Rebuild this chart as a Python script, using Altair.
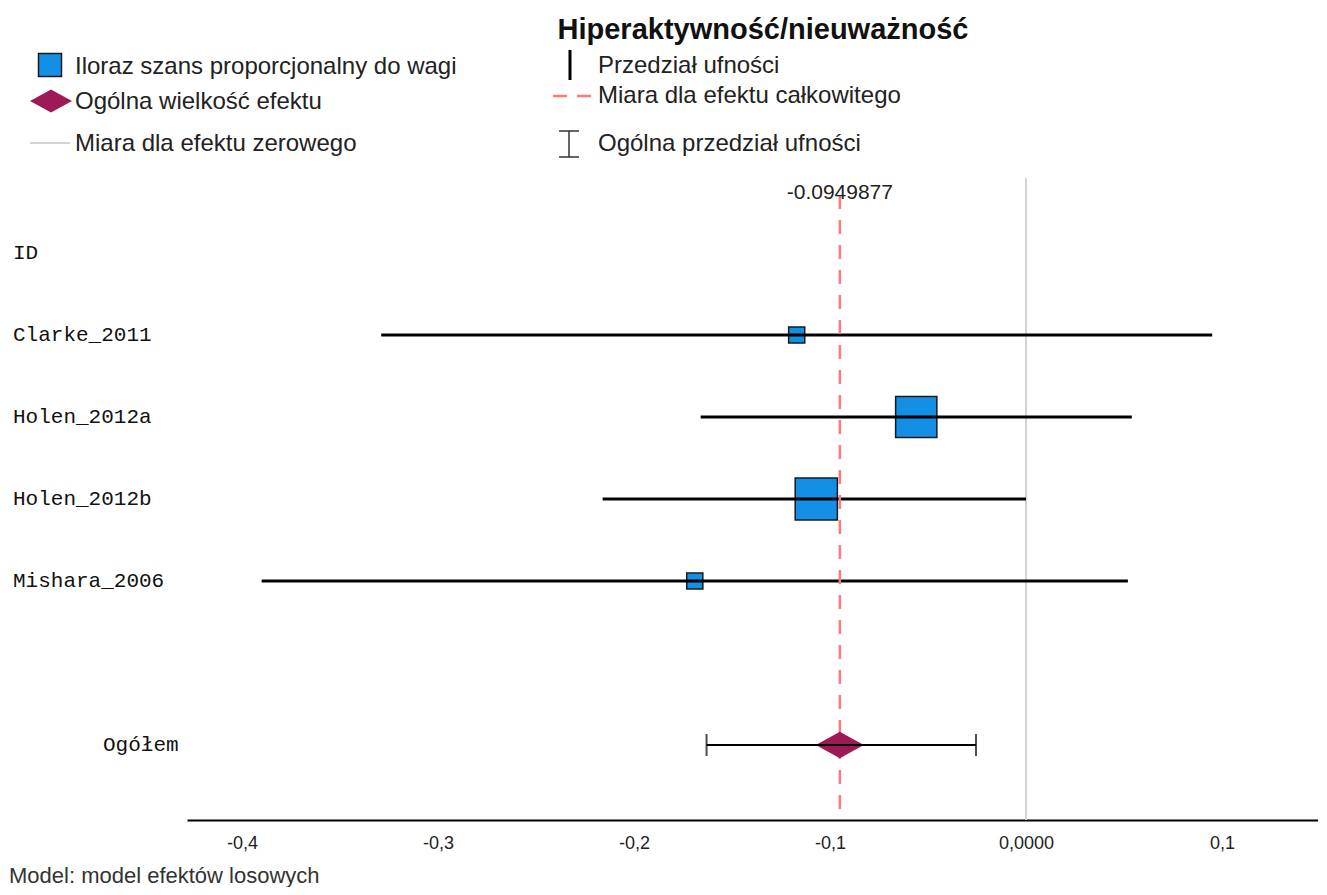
import altair as alt
import pandas as pd

# ---- data ----
studies = ["Clarke_2011", "Holen_2012a", "Holen_2012b", "Mishara_2006"]
effect = [-0.117, -0.056, -0.107, -0.169]
lower = [-0.329, -0.166, -0.216, -0.390]
upper = [0.095, 0.054, 0.000, 0.052]
weight = [6.5, 42.5, 44.5, 6.5]

overall_label = "Ogółem"
overall_est = -0.0949877
overall_lower = -0.163
overall_upper = -0.0255

tick_values = [-0.4, -0.3, -0.2, -0.1, 0.0, 0.1]

W, H = 1131, 642
x_scale = alt.Scale(domain=[-0.4281, 0.1490], nice=False, zero=False)
y_scale = alt.Scale(domain=[-0.9146, 6.9146], reverse=True, nice=False, zero=False)

df = pd.DataFrame({
    "study": studies,
    "row": list(range(1, len(studies) + 1)),
    "effect": effect,
    "lower": lower,
    "upper": upper,
    "weight": weight,
})
ov = pd.DataFrame({"label": [overall_label], "row": [6], "est": [overall_est],
                   "lower": [overall_lower], "upper": [overall_upper],
                   "est_txt": [f"{overall_est:.7f}"]})
hdr = pd.DataFrame({"label": ["ID"], "row": [0]})
one = pd.DataFrame({"k": [0]})

SANS = "Liberation Sans"
MONO = "Liberation Mono"
BLUE = "#1390E5"
MAROON = "#9E1A57"
RED = "#FF7B7B"
GRAY = "#D3D3D3"
DIAMOND = "M-1,0L0,-0.55L1,0L0,0.55Z"

axis = alt.Axis(values=tick_values, title=None, grid=False, ticks=False,
                domain=True, domainColor="black", domainWidth=2,
                labelFont=SANS, labelFontSize=18, labelColor="#222",
                labelPadding=14,
                labelExpr="datum.value == 0 ? '0,0000' : (datum.value < 0 ? '-' : '') + replace(format(abs(datum.value), '.1f'), '.', ',')")

X = lambda f: alt.X(f, scale=x_scale, axis=axis, title=None)
Y = lambda f: alt.Y(f, scale=y_scale, axis=None)

zero_line = alt.Chart(one).mark_rule(color=GRAY, strokeWidth=2).encode(
    x=X("z:Q")).transform_calculate(z="0")

squares = alt.Chart(df).mark_square(fill=BLUE, stroke="#1a1a1a", strokeWidth=1.5, opacity=1).encode(
    x=X("effect:Q"), y=Y("row:Q"),
    size=alt.Size("weight:Q", scale=alt.Scale(domain=[0, 100], range=[0, 4000]), legend=None))

ci = alt.Chart(df).mark_rule(color="black", strokeWidth=3).encode(
    x=X("lower:Q"), x2="upper:Q", y=Y("row:Q"))

red_line = alt.Chart(ov).mark_rule(color=RED, strokeWidth=2.5, strokeDash=[14, 11]).encode(
    x=X("est:Q"), y=alt.value(17), y2=alt.value(H))

red_label = alt.Chart(ov).mark_text(font=SANS, fontSize=21, color="#222", baseline="middle").encode(
    x=X("est:Q"), y=alt.value(15), text="est_txt:N")

diamond = alt.Chart(ov).mark_point(shape=DIAMOND, size=2304, filled=True, fill=MAROON, opacity=1, strokeWidth=0).encode(
    x=X("est:Q"), y=Y("row:Q"))

ov_ci = alt.Chart(ov).mark_rule(color="black", strokeWidth=2).encode(
    x=X("lower:Q"), x2="upper:Q", y=Y("row:Q"))
cap_lo = alt.Chart(ov).mark_tick(orient="vertical", size=22, thickness=2, color="black").encode(
    x=X("lower:Q"), y=Y("row:Q"))
cap_hi = alt.Chart(ov).mark_tick(orient="vertical", size=22, thickness=2, color="black").encode(
    x=X("upper:Q"), y=Y("row:Q"))

row_labels = alt.Chart(df).mark_text(align="left", baseline="middle", font=MONO, fontSize=21, color="#111").encode(
    x=alt.value(-174), y=Y("row:Q"), text="study:N")
hdr_label = alt.Chart(hdr).mark_text(align="left", baseline="middle", font=MONO, fontSize=21, color="#111").encode(
    x=alt.value(-174), y=Y("row:Q"), text="label:N")
ov_label = alt.Chart(ov).mark_text(align="left", baseline="middle", font=MONO, fontSize=21, color="#111").encode(
    x=alt.value(-84), y=Y("row:Q"), text="label:N")

# ---- legend / title / footnote (pixel-placed decorations) ----
def txt(s, x, y, size=24, weight="normal", align="left", color="#222"):
    return alt.Chart(one).mark_text(text=s, font=SANS, fontSize=size, fontWeight=weight,
                                    align=align, baseline="middle", color=color).encode(
        x=alt.value(x), y=alt.value(y))

title = txt("Hiperaktywność/nieuważność", 576, -148, size=29, weight="bold", align="center", color="#111")
leg_sq = alt.Chart(one).mark_square(fill=BLUE, stroke="#1a1a1a", strokeWidth=1.5, size=529, opacity=1).encode(
    x=alt.value(-137), y=alt.value(-113))
leg_t1 = txt("Iloraz szans proporcjonalny do wagi", -112, -111)
leg_dm = alt.Chart(one).mark_point(shape=DIAMOND, size=1764, filled=True, fill=MAROON, opacity=1, strokeWidth=0).encode(
    x=alt.value(-136), y=alt.value(-77))
leg_t2 = txt("Ogólna wielkość efektu", -112, -76)
leg_gl = alt.Chart(one).mark_rule(color=GRAY, strokeWidth=2).encode(
    x=alt.value(-157), x2=alt.value(-117), y=alt.value(-35))
leg_t3 = txt("Miara dla efektu zerowego", -112, -34)
leg_bar = alt.Chart(one).mark_rule(color="black", strokeWidth=3).encode(
    x=alt.value(383), y=alt.value(-128), y2=alt.value(-98))
leg_t4 = txt("Przedział ufności", 411, -112)
leg_red = alt.Chart(one).mark_rule(color=RED, strokeWidth=2.5, strokeDash=[14, 10]).encode(
    x=alt.value(366), x2=alt.value(404), y=alt.value(-82))
leg_t5 = txt("Miara dla efektu całkowitego", 411, -82)
leg_ib = alt.Chart(one).mark_rule(color="#333", strokeWidth=1.5).encode(
    x=alt.value(382), y=alt.value(-47), y2=alt.value(-21))
leg_ib_t = alt.Chart(one).mark_rule(color="#333", strokeWidth=1.5).encode(
    x=alt.value(372), x2=alt.value(392), y=alt.value(-47))
leg_ib_b = alt.Chart(one).mark_rule(color="#333", strokeWidth=1.5).encode(
    x=alt.value(372), x2=alt.value(392), y=alt.value(-21))
leg_t6 = txt("Ogólna przedział ufności", 411, -34)
foot = txt("Model: model efektów losowych", -178, 698, size=22, color="#333")

chart = alt.layer(
    zero_line, squares, ci, red_line, red_label, diamond, ov_ci, cap_lo, cap_hi,
    row_labels, hdr_label, ov_label,
    title, leg_sq, leg_t1, leg_dm, leg_t2, leg_gl, leg_t3, leg_bar, leg_t4, leg_red, leg_t5,
    leg_ib, leg_ib_t, leg_ib_b, leg_t6, foot,
).properties(
    width=W, height=H,
    autosize=alt.AutoSizeParams(type="none"),
    padding={"left": 179, "top": 170, "right": 0, "bottom": 67},
    background="white",
).configure_view(strokeWidth=0)

chart.save("out.html", embed_options={"renderer": "svg", "actions": False})
